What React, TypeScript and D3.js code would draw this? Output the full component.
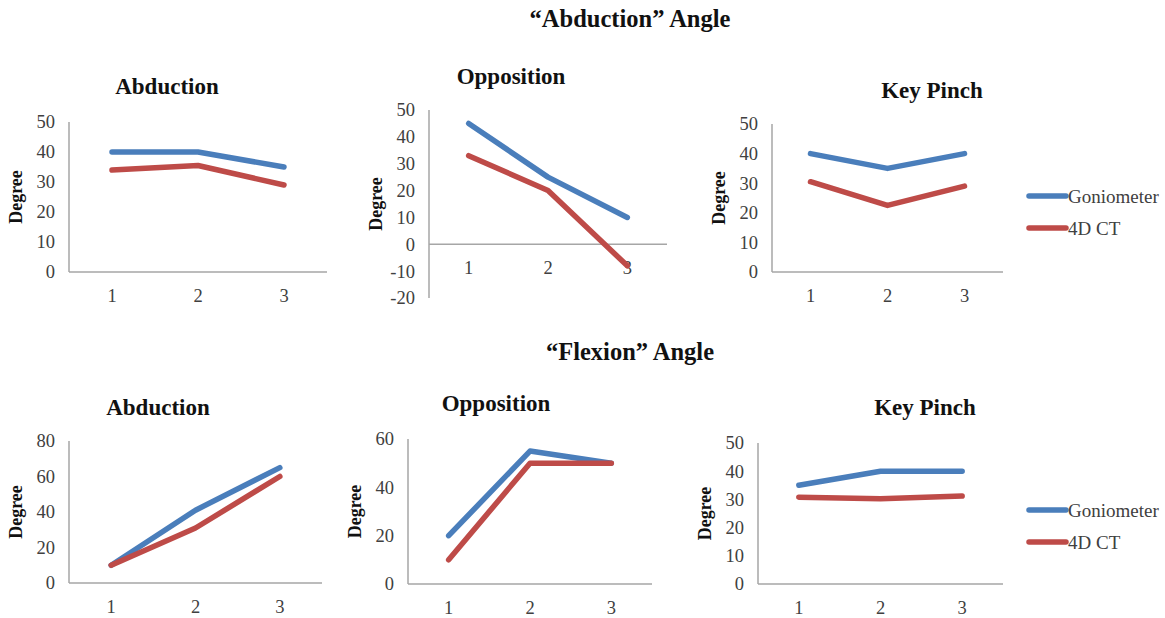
import { useRef, useEffect } from 'react';
import * as d3 from 'd3';

// x categories shared by every panel
const categories = ['1', '2', '3'];

const seriesNames = ['Goniometer', '4D CT'];
const seriesColors = ['#4A7EBB', '#BE4B48'];

// "Abduction" angle row
const abdAbductionGonio = [40, 40, 35];
const abdAbductionCT = [34, 35.5, 29];
const abdOppositionGonio = [45, 25, 10];
const abdOppositionCT = [33, 20, -8];
const abdKeyPinchGonio = [40, 35, 40];
const abdKeyPinchCT = [30.5, 22.5, 29];

// "Flexion" angle row
const flexAbductionGonio = [10, 41, 65];
const flexAbductionCT = [10, 31, 60];
const flexOppositionGonio = [20, 55, 50];
const flexOppositionCT = [10, 50, 50];
const flexKeyPinchGonio = [35, 40, 40];
const flexKeyPinchCT = [30.8, 30.2, 31.2];

const ticks50 = [0, 10, 20, 30, 40, 50];
const ticksOpp = [-20, -10, 0, 10, 20, 30, 40, 50];
const ticks80 = [0, 20, 40, 60, 80];
const ticks60 = [0, 20, 40, 60];

const rowTitles = ['\u201CAbduction\u201D Angle', '\u201CFlexion\u201D Angle'];

type Panel = {
    title: string;
    titleX: number;
    titleY: number;
    x0: number;
    x1: number;
    yTop: number;
    yBottom: number;
    domain: [number, number];
    ticks: number[];
    gonio: number[];
    ct: number[];
    legendY?: number;
};

const panels: Panel[] = [
    { title: 'Abduction', titleX: 167, titleY: 94, x0: 69, x1: 327, yTop: 122, yBottom: 272, domain: [0, 50], ticks: ticks50, gonio: abdAbductionGonio, ct: abdAbductionCT },
    { title: 'Opposition', titleX: 511, titleY: 84, x0: 429, x1: 667, yTop: 110, yBottom: 298, domain: [-20, 50], ticks: ticksOpp, gonio: abdOppositionGonio, ct: abdOppositionCT },
    { title: 'Key Pinch', titleX: 932, titleY: 98, x0: 772, x1: 1003, yTop: 124, yBottom: 272, domain: [0, 50], ticks: ticks50, gonio: abdKeyPinchGonio, ct: abdKeyPinchCT, legendY: 196 },
    { title: 'Abduction', titleX: 158, titleY: 415, x0: 69, x1: 322, yTop: 441, yBottom: 583, domain: [0, 80], ticks: ticks80, gonio: flexAbductionGonio, ct: flexAbductionCT },
    { title: 'Opposition', titleX: 496, titleY: 411, x0: 408, x1: 652, yTop: 439, yBottom: 584, domain: [0, 60], ticks: ticks60, gonio: flexOppositionGonio, ct: flexOppositionCT },
    { title: 'Key Pinch', titleX: 925, titleY: 415, x0: 758, x1: 1003, yTop: 443, yBottom: 584, domain: [0, 50], ticks: ticks50, gonio: flexKeyPinchGonio, ct: flexKeyPinchCT, legendY: 510 },
];

const FONT = '"Liberation Serif", "Times New Roman", serif';
const TEXT_COLOR = '#404040';
const AXIS_COLOR = '#A6A6A6';

const App = () => {
    const svgRef = useRef<SVGSVGElement | null>(null);

    useEffect(() => {
        document.body.style.margin = '0';
        const svgElement = svgRef.current;
        if (!svgElement) return;

        const svg = d3.select(svgElement);
        svg.selectAll('*').remove();

        svg.append('rect')
            .attr('width', 1165)
            .attr('height', 618)
            .attr('fill', '#ffffff');

        // row titles
        [27, 360].forEach((yy, i) => {
            svg.append('text')
                .attr('x', 630)
                .attr('y', yy)
                .attr('text-anchor', 'middle')
                .style('font-family', FONT)
                .style('font-weight', 'bold')
                .style('font-size', '24.5px')
                .style('fill', '#111')
                .text(rowTitles[i]);
        });

        panels.forEach(p => {
            const g = svg.append('g');

            const x = d3.scaleBand<string>()
                .domain(categories)
                .range([p.x0, p.x1]);

            const y = d3.scaleLinear()
                .domain(p.domain)
                .range([p.yBottom, p.yTop]);

            const xPos = (i: number) => (x(categories[i]) as number) + x.bandwidth() / 2;
            const zeroY = y(0);

            // title
            g.append('text')
                .attr('x', p.titleX)
                .attr('y', p.titleY)
                .attr('text-anchor', 'middle')
                .style('font-family', FONT)
                .style('font-weight', 'bold')
                .style('font-size', '23px')
                .style('fill', '#111')
                .text(p.title);

            // y axis line
            g.append('line')
                .attr('x1', p.x0).attr('x2', p.x0)
                .attr('y1', p.yTop).attr('y2', p.yBottom)
                .attr('stroke', AXIS_COLOR)
                .attr('stroke-width', 1.5);

            // x axis line at zero
            g.append('line')
                .attr('x1', p.x0).attr('x2', p.x1)
                .attr('y1', zeroY).attr('y2', zeroY)
                .attr('stroke', AXIS_COLOR)
                .attr('stroke-width', 1.5);

            // y tick labels
            g.selectAll('.ytick')
                .data(p.ticks)
                .enter()
                .append('text')
                .attr('x', p.x0 - 14)
                .attr('y', d => y(d))
                .attr('dy', '0.35em')
                .attr('text-anchor', 'end')
                .style('font-family', FONT)
                .style('font-size', '18.5px')
                .style('fill', TEXT_COLOR)
                .text(d => String(d));

            // x tick labels
            g.selectAll('.xtick')
                .data(categories)
                .enter()
                .append('text')
                .attr('x', (_, i) => xPos(i))
                .attr('y', zeroY + 30)
                .attr('text-anchor', 'middle')
                .style('font-family', FONT)
                .style('font-size', '18.5px')
                .style('fill', TEXT_COLOR)
                .text(d => d);

            // y axis title
            const midY = (p.yTop + p.yBottom) / 2;
            g.append('text')
                .attr('transform', `translate(${p.x0 - 53}, ${midY}) rotate(-90)`)
                .attr('text-anchor', 'middle')
                .attr('dy', '0.35em')
                .style('font-family', FONT)
                .style('font-weight', 'bold')
                .style('font-size', '18px')
                .style('fill', '#111')
                .text('Degree');

            const line = d3.line<number>()
                .x((_, i) => xPos(i))
                .y(d => y(d));

            [p.gonio, p.ct].forEach((vals, si) => {
                g.append('path')
                    .datum(vals)
                    .attr('fill', 'none')
                    .attr('stroke', seriesColors[si])
                    .attr('stroke-width', 5.5)
                    .attr('stroke-linecap', 'round')
                    .attr('stroke-linejoin', 'round')
                    .attr('d', line(vals) as string);
            });

            // legend
            if (p.legendY !== undefined) {
                seriesNames.forEach((name, si) => {
                    const ly = (p.legendY as number) + si * 32;
                    g.append('line')
                        .attr('x1', 1029).attr('x2', 1066)
                        .attr('y1', ly).attr('y2', ly)
                        .attr('stroke', seriesColors[si])
                        .attr('stroke-width', 5.5)
                        .attr('stroke-linecap', 'round');
                    g.append('text')
                        .attr('x', 1068)
                        .attr('y', ly)
                        .attr('dy', '0.35em')
                        .style('font-family', FONT)
                        .style('font-size', '19px')
                        .style('fill', TEXT_COLOR)
                        .text(name);
                });
            }
        });
    }, []);

    return (
        <svg ref={svgRef} width={1165} height={618} style={{ display: 'block' }}></svg>
    );
};

export default App;
